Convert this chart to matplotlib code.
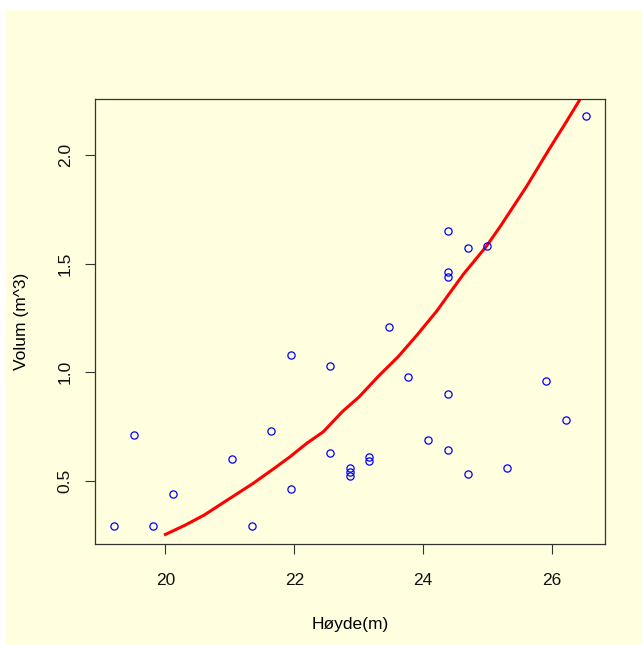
import matplotlib.pyplot as plt
from matplotlib.patches import Rectangle

# trees data converted to metric: height (m) and volume (m^3)
hoyde = [21.34, 19.81, 19.20, 21.95, 24.69, 25.30, 20.12, 22.86, 24.38, 22.86,
         24.08, 23.16, 23.16, 21.03, 22.86, 22.56, 25.91, 26.21, 21.64, 19.51,
         23.77, 24.38, 22.56, 21.95, 23.47, 24.69, 24.99, 24.38, 24.38, 24.38,
         26.52]
volum = [0.29, 0.29, 0.29, 0.46, 0.53, 0.56, 0.44, 0.52, 0.64, 0.56,
         0.69, 0.59, 0.61, 0.60, 0.54, 0.63, 0.96, 0.78, 0.73, 0.71,
         0.98, 0.90, 1.03, 1.08, 1.21, 1.57, 1.58, 1.65, 1.46, 1.44,
         2.18]

# fitted curve
kurve_x = [20.0, 20.3, 20.6, 21.0, 21.36, 21.7, 21.93, 22.19, 22.45, 22.75,
           23.0, 23.3, 23.61, 23.9, 24.2, 24.62, 24.98, 25.19, 25.6, 25.96,
           26.22, 26.45]
kurve_y = [0.253, 0.295, 0.342, 0.419, 0.488, 0.56, 0.61, 0.672, 0.726, 0.82,
           0.885, 0.98, 1.071, 1.17, 1.278, 1.45, 1.58, 1.669, 1.854, 2.03,
           2.153, 2.265]

plt.rcParams['font.family'] = ['Liberation Sans', 'DejaVu Sans']

fig = plt.figure(figsize=(6.42, 6.45), dpi=100, facecolor='white')
fig.patches.append(Rectangle((6 / 642, 0), 1, (645 - 10) / 645,
                             transform=fig.transFigure, facecolor='#FFFFE0',
                             edgecolor='none', zorder=-10))

ax = fig.add_axes([95 / 642, 101 / 645, 510 / 642, 445 / 645])
ax.set_facecolor('#FFFFE0')

ax.plot(hoyde, volum, 'o', mfc='none', mec='blue', ms=5.2, mew=0.9, zorder=3)
ax.plot(kurve_x, kurve_y, color='red', lw=2.2, zorder=2)

ax.set_xlim(18.907, 26.82)
ax.set_ylim(0.209, 2.258)
ax.set_xticks([20, 22, 24, 26])
ax.set_yticks([0.5, 1.0, 1.5, 2.0])
ax.set_yticklabels(['0.5', '1.0', '1.5', '2.0'], rotation=90, va='center')

ax.tick_params(direction='out', length=7.5, width=0.8, labelsize=12.5,
               colors='#333333', labelcolor='#111111')
ax.tick_params(axis='x', pad=13.5)
ax.tick_params(axis='y', pad=8.5)
for s in ax.spines.values():
    s.set_linewidth(0.9)
    s.set_color('#333333')

ax.set_xlabel('Høyde(m)', fontsize=12.5, va='center')
ax.set_ylabel('Volum (m^3)', fontsize=12.5, va='center')
ax.xaxis.set_label_coords(0.5, -(624 - 544) / 445)
ax.yaxis.set_label_coords(-(95 - 22) / 510, 0.5)

fig.savefig('out.png', dpi=100, facecolor=fig.get_facecolor())
